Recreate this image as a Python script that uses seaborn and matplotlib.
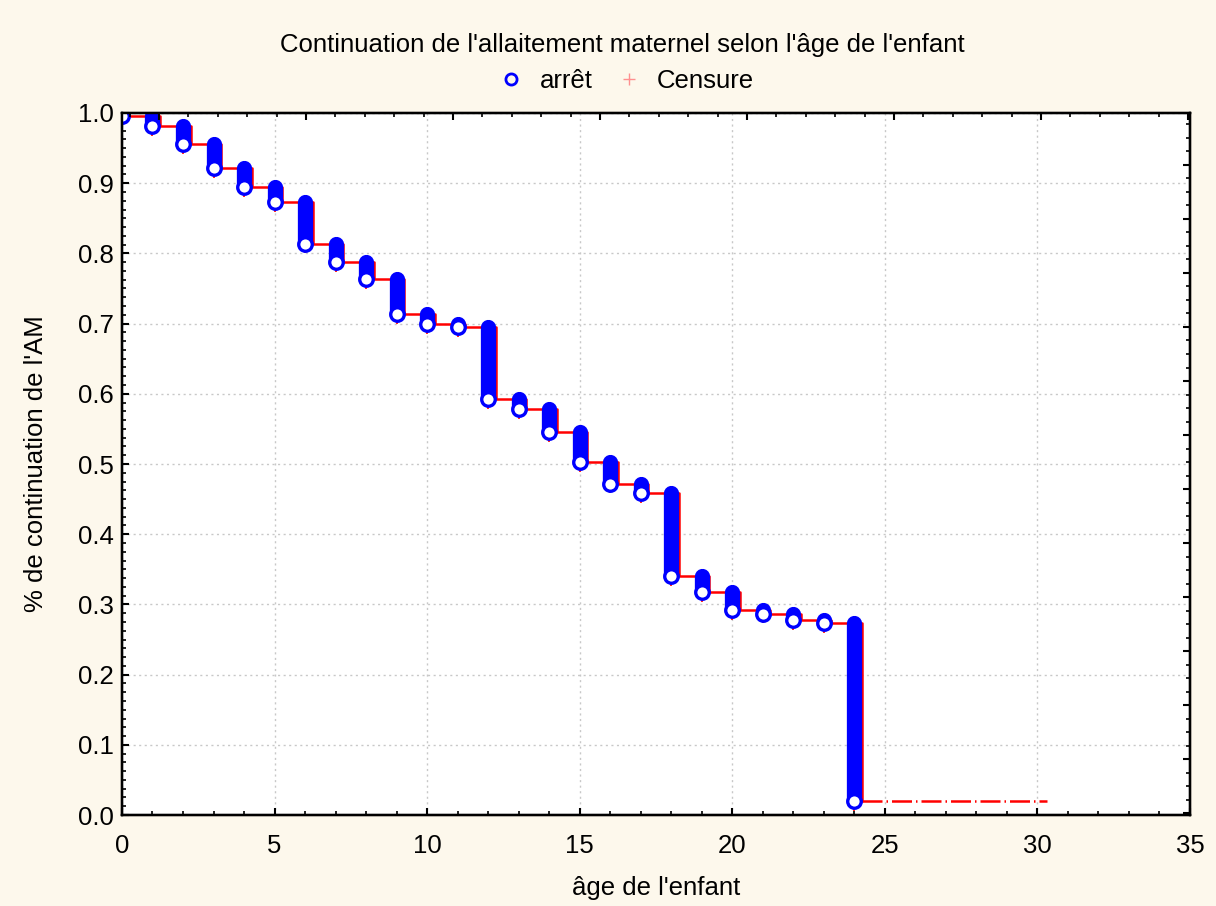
import numpy as np
import pandas as pd
import matplotlib
matplotlib.use("Agg")
import matplotlib.pyplot as plt
from matplotlib.lines import Line2D
from matplotlib.ticker import MultipleLocator, AutoMinorLocator, FormatStrFormatter
import seaborn as sns

# Kaplan-Meier estimate (month -> survival after the events of that month)
months = [0, 1, 2, 3, 4, 5, 6, 7, 8, 9, 10, 11, 12,
          13, 14, 15, 16, 17, 18, 19, 20, 21, 22, 23, 24]
survival = [0.996, 0.981, 0.956, 0.922, 0.894, 0.873, 0.814, 0.788, 0.763, 0.714, 0.699, 0.695, 0.592,
            0.578, 0.546, 0.503, 0.472, 0.458, 0.340, 0.318, 0.292, 0.287, 0.278, 0.274, 0.020]
last_censored = 30.3

title = "Continuation de l'allaitement maternel selon l'âge de l'enfant"
xlabel = "âge de l'enfant"
ylabel = "% de continuation de l'AM"
legend_labels = ["arrêt", "Censure"]

BG = "#fdf8ec"
BLUE = "#0000ff"
RED = "#ff0000"
FS = 18.5

sns.set_style("ticks")
plt.rcParams['font.family'] = ['Liberation Sans', 'DejaVu Sans']
plt.rcParams['font.size'] = FS
plt.rcParams['text.color'] = 'black'
plt.rcParams['axes.labelcolor'] = 'black'

fig = plt.figure(figsize=(12.16, 9.06), dpi=100, facecolor=BG)
ax = fig.add_axes([0.1003, 0.1004, 0.8783, 0.7749])
ax.set_facecolor("white")

# step line (drop drawn just right of each event column)
prev = [1.0] + survival[:-1]
step_df = pd.DataFrame({
    "x": [0.0] + [m + 0.25 for m in months[1:]],
    "y": survival,
})
sns.lineplot(data=step_df, x="x", y="y", ax=ax, color=RED, lw=1.8,
             drawstyle="steps-post", estimator=None, sort=False, zorder=2)
tail_df = pd.DataFrame({"x": [months[-1] + 0.25, last_censored],
                        "y": [survival[-1], survival[-1]]})
sns.lineplot(data=tail_df, x="x", y="y", ax=ax, color=RED, lw=1.8,
             estimator=None, sort=False, zorder=2)
ax.lines[-1].set_dashes([8, 1.6, 0.6, 1.6])

# stacked event markers -> solid blue columns, last one open
cols = ax.vlines(months, survival, prev, colors=BLUE, lw=11, zorder=3)
cols.set_capstyle("round")
ax.vlines(months, [s - 0.014 for s in survival], survival, colors=RED, lw=1.2, zorder=2)
ev_df = pd.DataFrame({"month": months, "s": survival})
sns.scatterplot(data=ev_df, x="month", y="s", ax=ax, s=95, facecolor="white",
                edgecolor=BLUE, linewidth=2.4, zorder=4)

ax.set_xlim(0, 35)
ax.set_ylim(0, 1.0)
ax.xaxis.set_major_locator(MultipleLocator(5))
ax.xaxis.set_minor_locator(MultipleLocator(1))
ax.yaxis.set_major_locator(MultipleLocator(0.1))
ax.yaxis.set_minor_locator(AutoMinorLocator(8))
ax.yaxis.set_major_formatter(FormatStrFormatter("%.1f"))
ax.grid(True, which="major", color="#c8c8c8", linestyle=(0, (1.5, 2.5)), lw=1)
ax.tick_params(which="major", direction="in", length=5, width=1.5, labelsize=FS, pad=6, colors="black")
ax.tick_params(axis="x", which="major", pad=14)
ax.tick_params(which="minor", direction="in", length=3, width=1.2, colors="black")
for sp in ax.spines.values():
    sp.set_linewidth(1.6)
    sp.set_color("black")

ax.set_xlabel(xlabel, fontsize=FS)
ax.set_ylabel(ylabel, fontsize=FS)
ax.xaxis.set_label_coords(0.5, -0.087)
ax.yaxis.set_label_coords(-0.069, 0.5)

# top and right frame ticks (independent scales, no labels)
ax_top = ax.twiny()
ax_top.set_xlim(-1.26, -1.26 + 1068 / 29.4)
ax_top.xaxis.set_major_locator(MultipleLocator(5))
ax_top.xaxis.set_minor_locator(MultipleLocator(1))
ax_top.tick_params(axis="x", which="major", direction="in", length=5, width=1.5, labeltop=False, colors="black")
ax_top.tick_params(axis="x", which="minor", direction="in", length=3, width=1.2, colors="black")
ax_right = ax.twinx()
ax_right.set_ylim(-1.037, -1.037 + 702 / 54)
ax_right.yaxis.set_major_locator(MultipleLocator(1))
ax_right.yaxis.set_minor_locator(AutoMinorLocator(4))
ax_right.tick_params(axis="y", which="major", direction="in", length=5, width=1.5, labelright=False, colors="black")
ax_right.tick_params(axis="y", which="minor", direction="in", length=3, width=1.2, colors="black")
for a in (ax_top, ax_right):
    for sp in a.spines.values():
        sp.set_linewidth(1.6)
        sp.set_color("black")

fig.text(0.512, 0.950, title, ha="center", va="center", fontsize=FS, color="black")
handles = [
    Line2D([], [], marker="o", ls="none", markerfacecolor="none", markeredgecolor=BLUE,
           markeredgewidth=2, markersize=8),
    Line2D([], [], marker="+", ls="none", color="#ff9090", markeredgewidth=1, markersize=8),
]
fig.legend(handles, legend_labels, loc="center", bbox_to_anchor=(0.515, 0.911), ncol=2,
           frameon=False, fontsize=FS, handlelength=1.0, handletextpad=0.6, columnspacing=0.9,
           labelcolor="black")

fig.savefig("out.png", dpi=100, facecolor=BG)
